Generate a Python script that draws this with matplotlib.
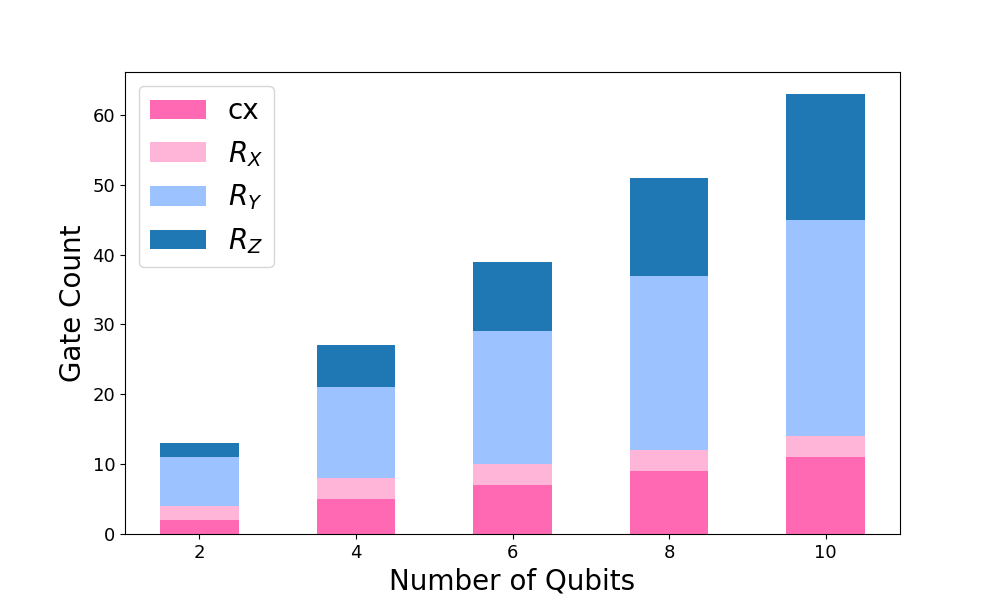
import matplotlib
matplotlib.use("Agg")
import matplotlib.pyplot as plt
import numpy as np

qubits = [2, 4, 6, 8, 10]
cx = [2, 5, 7, 9, 11]
rx = [2, 3, 3, 3, 3]
ry = [7, 13, 19, 25, 31]
rz = [2, 6, 10, 14, 18]

labels = ['cx', '$R_X$', '$R_Y$', '$R_Z$']
colors = ['#ff69b4', '#ffb5d8', '#9cc3ff', '#1f77b4']

fig, ax = plt.subplots(figsize=(10, 6), dpi=100)
pos = np.arange(len(qubits))
bottom = np.zeros(len(qubits))
for vals, lab, col in zip([cx, rx, ry, rz], labels, colors):
    ax.bar(pos, vals, width=0.5, bottom=bottom, color=col, label=lab)
    bottom += np.array(vals)

ax.set_xticks(pos)
ax.set_xticklabels([str(q) for q in qubits])
ax.tick_params(labelsize=13)
ax.set_xlabel('Number of Qubits', fontsize=20)
ax.set_ylabel('Gate Count', fontsize=20)
ax.legend(fontsize=20, loc='upper left')

fig.savefig('out.png')
